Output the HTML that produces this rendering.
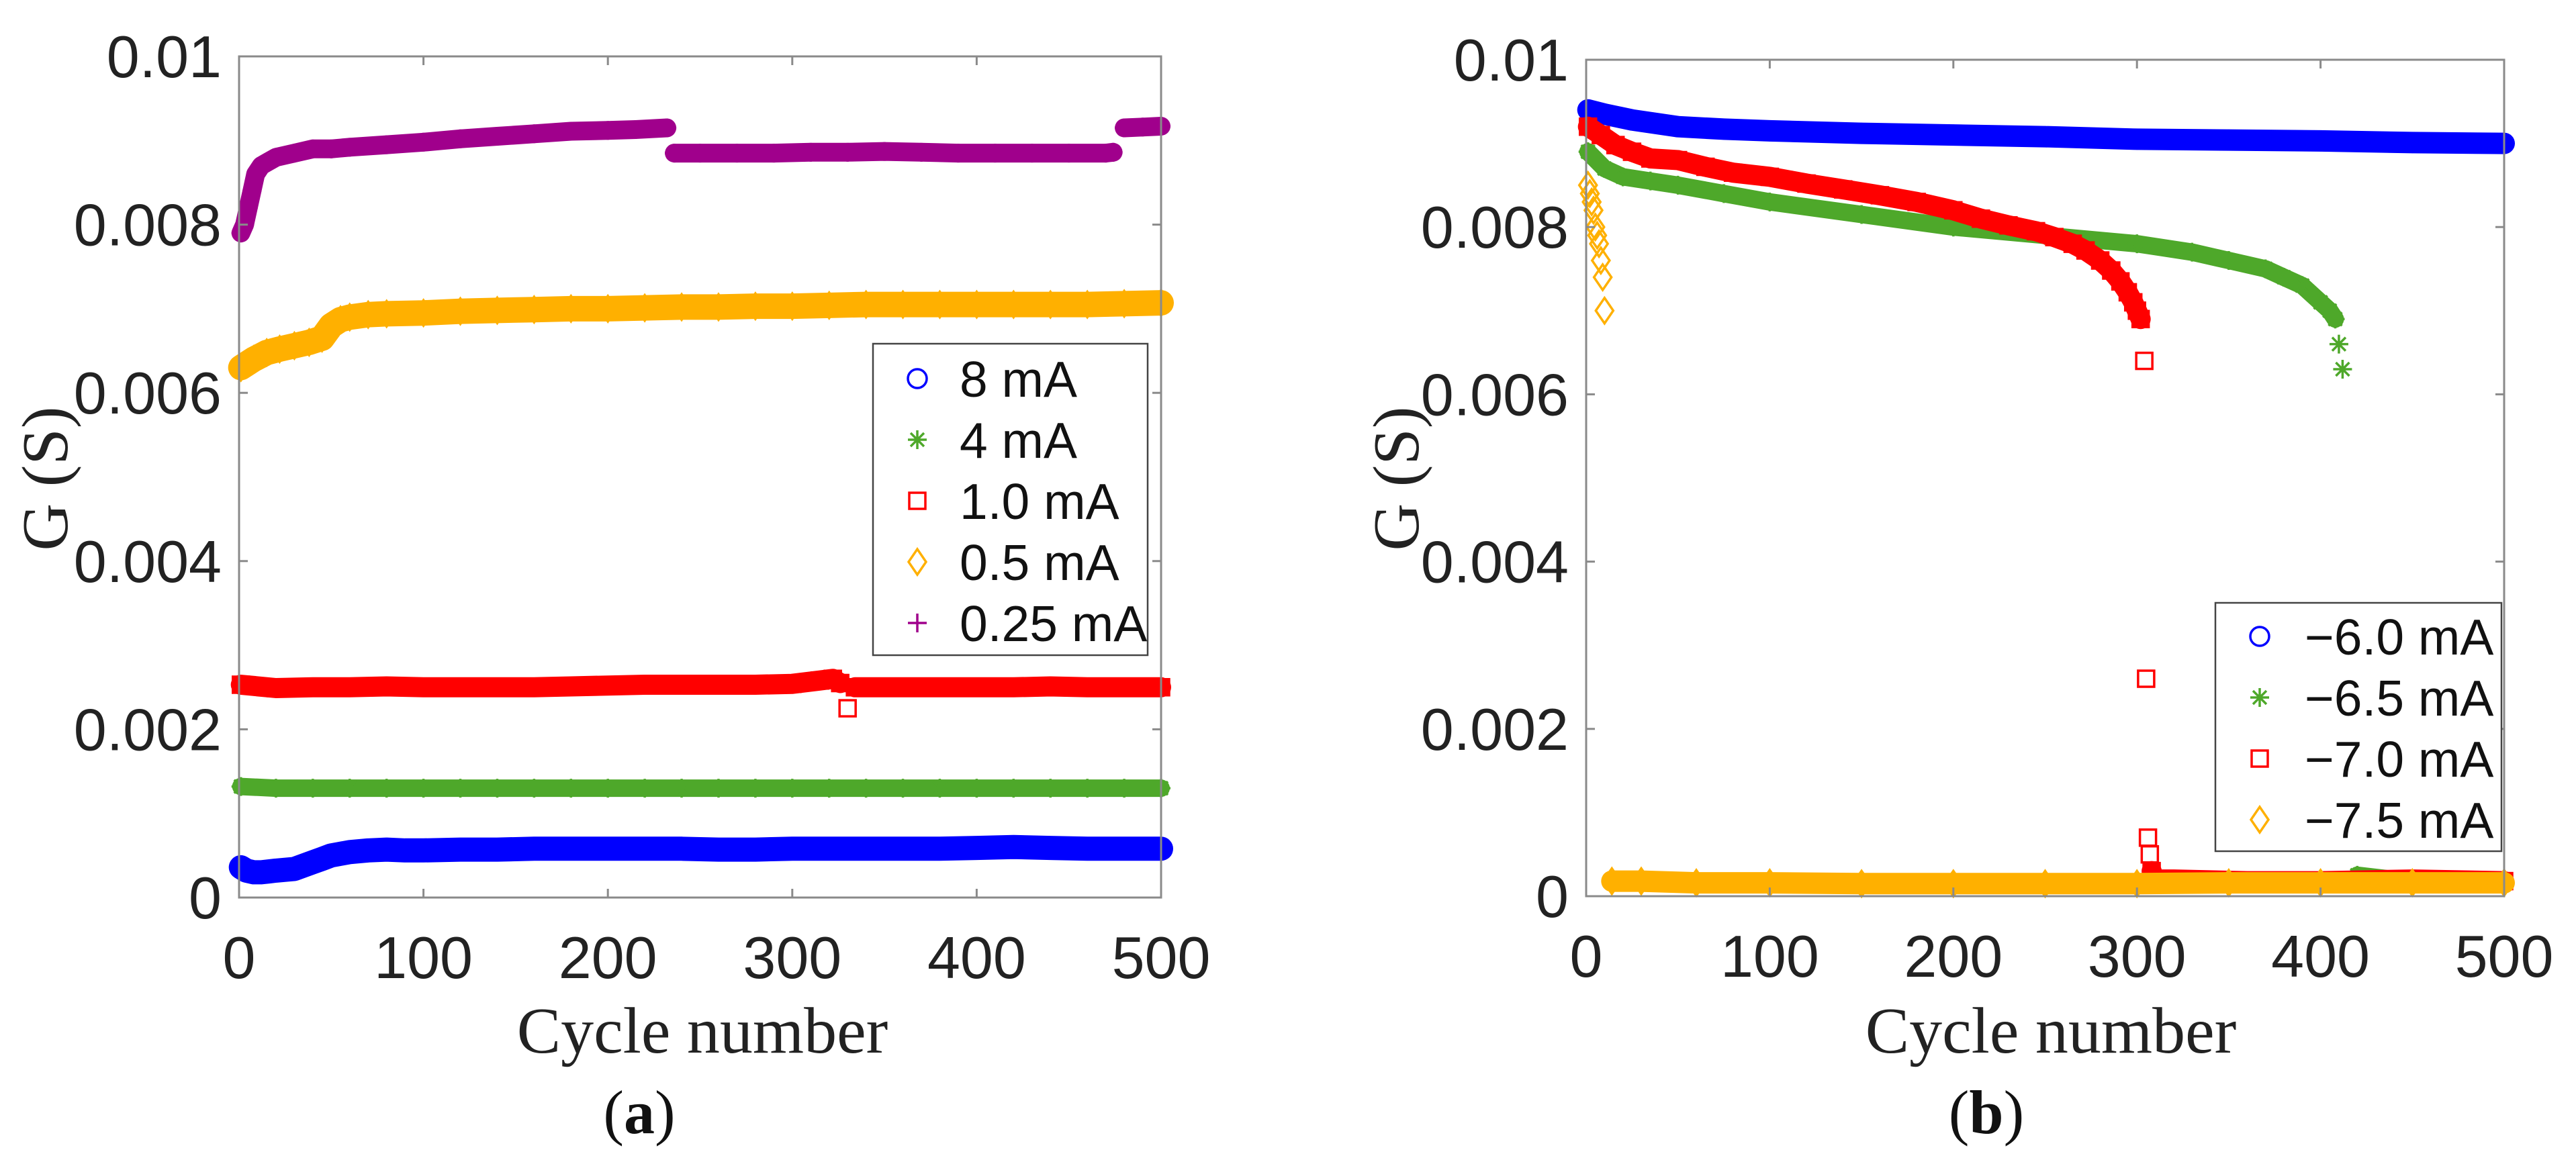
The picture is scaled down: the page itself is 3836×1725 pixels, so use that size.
<!DOCTYPE html>
<html><head><meta charset="utf-8">
<style>
html,body{margin:0;padding:0;background:#fff;}
svg{display:block;}
.tick{font-family:"Liberation Sans",sans-serif;font-size:88px;fill:#222;}
.leg{font-family:"Liberation Sans",sans-serif;font-size:75px;fill:#111;}
.ttl{font-family:"Liberation Serif",serif;font-size:98px;fill:#222;}
.cap{font-family:"Liberation Serif",serif;font-size:92px;fill:#111;}
</style></head>
<body>
<svg id="fig" width="3836" height="1725" viewBox="0 0 3836 1725" xmlns="http://www.w3.org/2000/svg"></svg>
<script>
// ---------- shared axis data ----------
const xTicks=[0,100,200,300,400,500];
const yTicks=[0,0.002,0.004,0.006,0.008,0.01];
const yTickLabels=["0","0.002","0.004","0.006","0.008","0.01"];

// ---------- panel (a) data ----------
const aBlueX=[1,4,8,12,16,20,25,30,35,40,45,50,55,60,65,70,80,90,100,120,140,160,180,200,220,240,260,280,300,320,340,360,380,400,420,440,460,480,500];
const aBlueY=[.00036,.00032,.0003,.0003,.00031,.00032,.00033,.00034,.00038,.00042,.00046,.0005,.00052,.00054,.00055,.00056,.00057,.00056,.00056,.00057,.00057,.00058,.00058,.00058,.00058,.00058,.00057,.00057,.00058,.00058,.00058,.00058,.00058,.00059,.0006,.00059,.00058,.00058,.00058];
const aGreenX=[1,20,40,60,80,100,120,140,160,180,200,220,240,260,280,300,320,340,360,380,400,420,440,460,480,500];
const aGreenY=[.00132,.0013,.0013,.0013,.0013,.0013,.0013,.0013,.0013,.0013,.0013,.0013,.0013,.0013,.0013,.0013,.0013,.0013,.0013,.0013,.0013,.0013,.0013,.0013,.0013,.0013];
const aRedX=[1,20,40,60,80,100,120,140,160,180,200,220,240,260,280,300,315,322,326,330,334,340,360,380,400,420,440,460,480,500];
const aRedY=[.00253,.00249,.0025,.0025,.00251,.0025,.0025,.0025,.0025,.00251,.00252,.00253,.00253,.00253,.00253,.00254,.00258,.0026,.00255,.00225,.0025,.0025,.0025,.0025,.0025,.0025,.00251,.0025,.0025,.0025];
const aOrangeX=[1,8,15,22,30,38,45,50,55,60,70,80,100,120,140,160,180,200,220,240,260,280,300,320,340,360,380,400,420,440,460,480,500];
const aOrangeY=[.0063,.0064,.00648,.00652,.00656,.0066,.00665,.0068,.00687,.0069,.00693,.00694,.00695,.00697,.00698,.00699,.007,.007,.00701,.00702,.00702,.00703,.00703,.00704,.00705,.00705,.00705,.00705,.00705,.00705,.00705,.00706,.00707];
const aPurpleX=[1,3,5,7,9,12,16,20,30,40,50,60,80,100,120,140,160,180,200,215,232,236,250,270,290,310,330,350,370,390,410,430,450,470,474,480,490,500];
const aPurpleY=[.0079,.0080,.0082,.0084,.0086,.0087,.00875,.0088,.00885,.0089,.0089,.00892,.00895,.00898,.00902,.00905,.00908,.00911,.00912,.00913,.00915,.00885,.00885,.00885,.00885,.00886,.00886,.00887,.00886,.00885,.00885,.00885,.00885,.00885,.00886,.00915,.00916,.00917];

// ---------- panel (b) data ----------
const bBlueX=[1,10,25,50,75,100,150,200,250,300,350,400,450,500];
const bBlueY=[.0094,.00935,.00928,.0092,.00917,.00915,.00912,.0091,.00908,.00905,.00904,.00903,.00901,.009];
const bGreenX=[1,10,20,35,50,75,100,150,200,250,300,330,350,370,380,390,400,405,408,410,412,420,440,460,480,500];
const bGreenY=[.0089,.0087,.0086,.00855,.0085,.0084,.0083,.00815,.008,.0079,.0078,.0077,.0076,.0075,.0074,.0073,.0071,.0070,.0069,.0066,.0063,.00025,.0002,.0002,.00018,.00018];
const bRedX=[1,8,16,25,35,50,65,80,100,120,140,160,180,200,215,230,245,255,265,272,280,286,291,295,298,300,302,304,305,306,307,308,309,320,360,400,450,500];
const bRedY=[.0092,.0091,.00898,.0089,.00882,.0088,.00872,.00865,.0086,.00852,.00845,.00838,.0083,.0082,.0081,.00802,.00795,.00788,.0078,.00772,.0076,.00748,.00735,.00722,.0071,.0070,.0069,.0064,.0026,.0007,.0005,.0003,.0002,.0002,.00018,.00018,.0002,.00018];
const bOrangeX=[1,2,3,4,5,6,7,8,9,10,14,30,60,100,150,200,250,300,350,400,450,500];
const bOrangeY=[.0085,.0084,.0083,.0082,.008,.0079,.0078,.0076,.0074,.0070,.00018,.00018,.00016,.00016,.00015,.00015,.00015,.00015,.00016,.00016,.00016,.00016];

const NS="http://www.w3.org/2000/svg";
const svg=document.getElementById('fig');
function mk(tag,attrs,parent){const e=document.createElementNS(NS,tag);for(const k in attrs)e.setAttribute(k,attrs[k]);(parent||svg).appendChild(e);return e;}

function marker(g,shape,cx,cy,color){
  const s=14;
  if(shape==='circle'){return mk('circle',{cx:cx,cy:cy,r:s,fill:'none',stroke:color,'stroke-width':3.5},g);}
  if(shape==='square'){return mk('rect',{x:cx-12,y:cy-12,width:24,height:24,fill:'none',stroke:color,'stroke-width':3.5},g);}
  if(shape==='diamond'){return mk('path',{d:`M${cx} ${cy-19}L${cx+13} ${cy}L${cx} ${cy+19}L${cx-13} ${cy}Z`,fill:'none',stroke:color,'stroke-width':3.5},g);}
  if(shape==='plus'){return mk('path',{d:`M${cx-s} ${cy}H${cx+s}M${cx} ${cy-s}V${cy+s}`,stroke:color,'stroke-width':3.5,fill:'none'},g);}
  if(shape==='star'){return mk('path',{d:`M${cx-s} ${cy}H${cx+s}M${cx} ${cy-s}V${cy+s}M${cx-10} ${cy-10}L${cx+10} ${cy+10}M${cx-10} ${cy+10}L${cx+10} ${cy-10}`,stroke:color,'stroke-width':3.5,fill:'none'},g);}
}

function panel(p){
  const X=v=>p.L+(v/500)*(p.R-p.L);
  const Y=v=>p.B-(v/0.01)*(p.B-p.T);
  const g=mk('g',{});
  
  
  p.series.forEach(s=>{
    const sg=mk('g',{},g);
    
    
    let seg=[];
    const flush=()=>{if(seg.length>1){mk('polyline',{points:seg.join(' '),fill:'none',stroke:s.color,'stroke-width':s.band,'stroke-linejoin':'round','stroke-linecap':'round'},sg);}seg=[];};
    for(let i=0;i<s.x.length;i++){
      if(i>0&&Math.abs(s.y[i]-s.y[i-1])>s.gap)flush();
      seg.push(X(s.x[i]).toFixed(1)+','+Y(s.y[i]).toFixed(1));
    }
    flush();
    for(let i=0;i<s.x.length;i++){
      const m=marker(sg,s.shape,X(s.x[i]),Y(s.y[i]),s.color);
      
      
    }
  });
  const box=mk('rect',{x:p.L,y:p.T,width:p.R-p.L,height:p.B-p.T,fill:'none',stroke:'#8a8a8a','stroke-width':3},g);
  
  
  xTicks.forEach(t=>{
    const x=X(t);
    mk('line',{x1:x,y1:p.B,x2:x,y2:p.B-13,stroke:'#8a8a8a','stroke-width':3},g);
    mk('line',{x1:x,y1:p.T,x2:x,y2:p.T+13,stroke:'#8a8a8a','stroke-width':3},g);
    const tx=mk('text',{x:x,y:p.B+120,'text-anchor':'middle',class:'tick'},g);
    tx.textContent=String(t);
    
    
  });
  yTicks.forEach((t,i)=>{
    const y=Y(t);
    mk('line',{x1:p.L,y1:y,x2:p.L+13,y2:y,stroke:'#8a8a8a','stroke-width':3},g);
    mk('line',{x1:p.R,y1:y,x2:p.R-13,y2:y,stroke:'#8a8a8a','stroke-width':3},g);
    const ty=mk('text',{x:p.L-26,y:y+31,'text-anchor':'end',class:'tick'},g);
    ty.textContent=yTickLabels[i];
    
    
  });
  const xt=mk('text',{x:p.xTitleX,y:1568,'text-anchor':'middle',class:'ttl'},g);
  xt.textContent='Cycle number';
  
  
  const yt=mk('text',{x:0,y:0,'text-anchor':'middle',class:'ttl',transform:`translate(${p.yTitleX},713) rotate(-90)`},g);
  yt.textContent='G (S)';
  
  
  const cap=mk('text',{x:p.capX,y:1688,'text-anchor':'middle',class:'cap'},g);
  cap.innerHTML='(<tspan font-weight="bold">'+p.capLetter+'</tspan>)';
  
  
  const lg=mk('g',{},g);
  
  
  mk('rect',{x:p.leg.x,y:p.leg.y,width:p.leg.w,height:p.leg.h,fill:'#fff',stroke:'#444','stroke-width':2.5},lg);
  p.series.forEach((s,i)=>{
    const cy=p.leg.y0+i*p.leg.dy;
    const e=mk('g',{},lg);
    
    
    marker(e,s.shape,p.leg.mx,cy,s.color);
    const t=mk('text',{x:p.leg.tx,y:cy+27,class:'leg'},e);
    t.textContent=s.label;
  });
}

panel({name:'panel-a',L:356,R:1729,T:84,B:1337,xTitleX:1046,yTitleX:100,capX:952,capLetter:'a',
  leg:{x:1300,y:512,w:409,h:464,y0:564,dy:91,mx:1366,tx:1429},
  series:[
    {name:'series-8mA',label:'8 mA',x:aBlueX,y:aBlueY,color:'#0000ff',shape:'circle',band:36,gap:0.00025},
    {name:'series-4mA',label:'4 mA',x:aGreenX,y:aGreenY,color:'#4ea82a',shape:'star',band:26,gap:0.00025},
    {name:'series-1.0mA',label:'1.0 mA',x:aRedX,y:aRedY,color:'#ff0000',shape:'square',band:30,gap:0.00025},
    {name:'series-0.5mA',label:'0.5 mA',x:aOrangeX,y:aOrangeY,color:'#ffb000',shape:'diamond',band:38,gap:0.00025},
    {name:'series-0.25mA',label:'0.25 mA',x:aPurpleX,y:aPurpleY,color:'#a0008c',shape:'plus',band:28,gap:0.00025}
  ]});

panel({name:'panel-b',L:2362,R:3729,T:89,B:1335,xTitleX:3054,yTitleX:2112,capX:2958,capLetter:'b',
  leg:{x:3299,y:898,w:426,h:370,y0:948,dy:91,mx:3365,tx:3432},
  series:[
    {name:'series-neg6.0mA',label:'\u22126.0 mA',x:bBlueX,y:bBlueY,color:'#0000ff',shape:'circle',band:32,gap:0.00025},
    {name:'series-neg6.5mA',label:'\u22126.5 mA',x:bGreenX,y:bGreenY,color:'#4ea82a',shape:'star',band:26,gap:0.00025},
    {name:'series-neg7.0mA',label:'\u22127.0 mA',x:bRedX,y:bRedY,color:'#ff0000',shape:'square',band:30,gap:0.00015},
    {name:'series-neg7.5mA',label:'\u22127.5 mA',x:bOrangeX,y:bOrangeY,color:'#ffb000',shape:'diamond',band:32,gap:0.00005}
  ]});
</script>
</body></html>
